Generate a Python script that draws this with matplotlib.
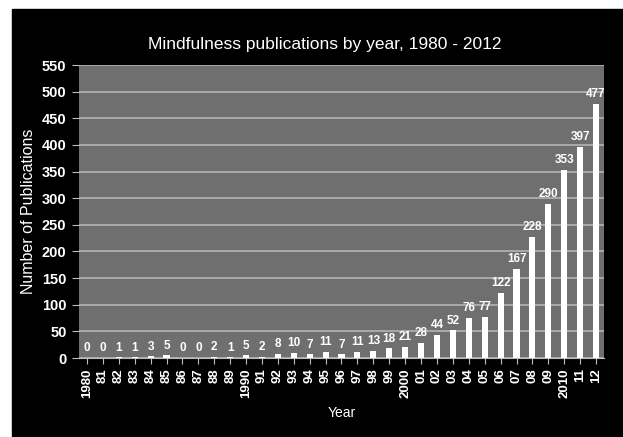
import matplotlib
matplotlib.use("Agg")
import matplotlib.pyplot as plt
from matplotlib.patches import Rectangle
import numpy as np

plt.rcParams['font.family'] = ['Liberation Sans', 'DejaVu Sans']

years = ['1980', '81', '82', '83', '84', '85', '86', '87', '88', '89',
         '1990', '91', '92', '93', '94', '95', '96', '97', '98', '99',
         '2000', '01', '02', '03', '04', '05', '06', '07', '08', '09',
         '2010', '11', '12']
counts = [0, 0, 1, 1, 3, 5, 0, 0, 2, 1,
          5, 2, 8, 10, 7, 11, 7, 11, 13, 18,
          21, 28, 44, 52, 76, 77, 122, 167, 228, 290,
          353, 397, 477]
y_ticks = list(range(0, 551, 50))

W, H = 623, 437
fig = plt.figure(figsize=(W / 100, H / 100), dpi=100)
fig.patch.set_facecolor('white')
# black card behind the chart, leaves a thin white strip top/left
fig.patches.append(Rectangle((12 / W, 0), 1 - 12 / W, (H - 9) / H,
                             transform=fig.transFigure, color='black', zorder=-5))

ax = fig.add_axes([79 / W, 1 - 358 / H, (604 - 79) / W, (358 - 65) / H])
ax.set_facecolor('#6f6f6f')

x = np.arange(len(years))
bars = ax.bar(x, counts, width=0.38, color='white', zorder=3)
for xi, v in zip(x, counts):
    ax.text(xi, v + 7, str(v), ha='center', va='bottom', color='white',
            fontsize=8.5, fontweight='bold', zorder=4)

ax.set_xlim(-0.5, len(years) - 0.5)
ax.set_ylim(0, 550)
ax.set_yticks(y_ticks)
ax.set_yticklabels([str(t) for t in y_ticks], fontsize=10.5, fontweight='bold', color='white')
ax.set_xticks(x)
ax.set_xticklabels(years, rotation=90, fontsize=9.5, fontweight='bold', color='white')
ax.grid(axis='y', color='#b4b4b4', linewidth=1.2, zorder=1)

for s in ['top', 'right', 'left']:
    ax.spines[s].set_visible(False)
ax.spines['bottom'].set_color('#bdbdbd')
ax.tick_params(axis='y', colors='#bdbdbd', labelcolor='white', length=5, direction='out', pad=4)
ax.tick_params(axis='x', colors='#bdbdbd', labelcolor='white', length=4, direction='out')

# title sits a little left of the plot centre in the original
fig.text(325 / W, 1 - 45 / H, 'Mindfulness publications by year, 1980 - 2012', color='white',
         fontsize=12.5, ha='center', va='center')
ax.set_ylabel('Number of Publications', color='white', fontsize=11.5, labelpad=4)
ax.set_xlabel('Year', color='white', fontsize=10, labelpad=6)

fig.savefig('out.png', dpi=100, facecolor=fig.get_facecolor())
